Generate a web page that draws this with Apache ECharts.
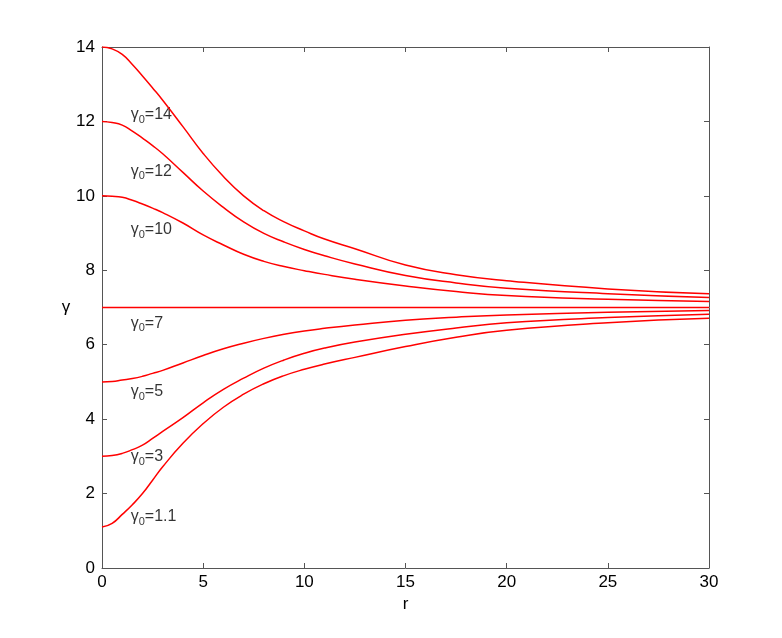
<!DOCTYPE html>
<html>
<head>
<meta charset="utf-8">
<script src="https://cdn.jsdelivr.net/npm/echarts@6/dist/echarts.min.js"></script>
<style>
    html, body { margin: 0; padding: 0; background: #fff; }
    #chart { width: 782px; height: 638px; }
</style>
</head>
<body>
<div id="chart"></div>
<script>
const rValues = [0, 0.5, 1, 1.5, 2, 2.5, 3, 4, 5, 6, 7, 8, 9, 10, 11, 12.5, 15, 17.5, 20, 25, 30]

const gamma14 = [14, 13.95, 13.8, 13.53, 13.22, 12.9, 12.57, 11.86, 11.14, 10.52, 10.0, 9.6, 9.3, 9.06, 8.84, 8.58, 8.14, 7.88, 7.72, 7.5, 7.37]
const gamma12 = [12, 11.97, 11.9, 11.74, 11.55, 11.35, 11.13, 10.63, 10.13, 9.69, 9.3, 8.99, 8.76, 8.56, 8.39, 8.17, 7.86, 7.66, 7.52, 7.37, 7.27]
const gamma10 = [10, 9.99, 9.96, 9.88, 9.78, 9.67, 9.55, 9.27, 8.95, 8.68, 8.43, 8.24, 8.1, 7.99, 7.89, 7.76, 7.58, 7.43, 7.32, 7.22, 7.16]
const gamma7 = [7, 7, 7, 7, 7, 7, 7, 7, 7, 7, 7, 7, 7, 7, 7, 7, 7, 7, 7, 7, 7]
const gamma5 = [5, 5.01, 5.05, 5.09, 5.15, 5.23, 5.31, 5.51, 5.71, 5.89, 6.04, 6.17, 6.28, 6.37, 6.44, 6.53, 6.66, 6.74, 6.8, 6.87, 6.92]
const gamma3 = [3, 3.02, 3.08, 3.18, 3.3, 3.48, 3.67, 4.04, 4.44, 4.8, 5.1, 5.37, 5.59, 5.77, 5.91, 6.07, 6.28, 6.45, 6.59, 6.73, 6.82]
const gamma1_1 = [1.1, 1.2, 1.44, 1.7, 2.0, 2.36, 2.72, 3.35, 3.88, 4.32, 4.67, 4.95, 5.17, 5.34, 5.48, 5.66, 5.95, 6.2, 6.39, 6.59, 6.71]

const curves = [gamma14, gamma12, gamma10, gamma7, gamma5, gamma3, gamma1_1]

// curve labels: text after the subscript, and where they sit
const labelText = ['14', '12', '10', '7', '5', '3', '1.1']
const labelR = [1.42, 1.42, 1.42, 1.42, 1.42, 1.42, 1.42]
const labelGamma = [12.18, 10.66, 9.09, 6.58, 4.74, 2.99, 1.37]

const xTicks = [0, 5, 10, 15, 20, 25, 30]
const yTicks = [0, 2, 4, 6, 8, 10, 12, 14]

const font = 'Liberation Sans, Arial, Helvetica, sans-serif'
const axisColor = '#555'

const chart = echarts.init(document.getElementById('chart'))

const lineSeries = curves.map((vals, i) => ({
    name: 'g' + labelText[i],
    type: 'line',
    data: rValues.map((r, j) => [r, vals[j]]),
    showSymbol: false,
    smooth: 0.5,
    lineStyle: { color: '#ff0000', width: 1.5 },
    silent: true
}))

const labelSeries = {
    type: 'scatter',
    symbolSize: 0,
    silent: true,
    data: labelText.map((t, i) => ({ value: [labelR[i], labelGamma[i]], txt: t })),
    label: {
        show: true,
        position: 'right',
        distance: 0,
        formatter: p => '{g|γ}{s|0}{t|=' + p.data.txt + '}',
        rich: {
            g: { fontSize: 16, fontFamily: font, color: '#000' },
            s: { fontSize: 11, fontFamily: font, color: '#000', padding: [10, 0, 0, 0] },
            t: { fontSize: 16, fontFamily: font, color: '#000' }
        }
    }
}

const frameAxis = {
    type: 'value',
    axisLine: { show: true, onZero: false, lineStyle: { color: axisColor, width: 1 } },
    axisTick: { show: true, inside: true, length: 5, lineStyle: { color: axisColor } },
    splitLine: { show: false }
}

const option = {
    animation: false,
    backgroundColor: '#fff',
    grid: { left: 102, top: 47, right: 73, bottom: 70, containLabel: false },
    xAxis: [
        {
            ...frameAxis,
            min: 0, max: 30, interval: 5,
            position: 'bottom',
            name: 'r',
            nameLocation: 'middle',
            nameGap: 28,
            nameTextStyle: { fontSize: 17, fontFamily: font, color: '#000' },
            axisLabel: { fontSize: 17, fontFamily: font, color: '#000', margin: 6,
                formatter: v => xTicks.includes(v) ? String(v) : '' }
        },
        {
            ...frameAxis,
            min: 0, max: 30, interval: 5,
            position: 'top',
            axisLabel: { show: false }
        }
    ],
    yAxis: [
        {
            ...frameAxis,
            min: 0, max: 14, interval: 2,
            position: 'left',
            name: 'γ',
            nameLocation: 'middle',
            nameRotate: 0,
            nameGap: 30,
            nameTextStyle: { fontSize: 17, fontFamily: font, color: '#000' },
            axisLabel: { fontSize: 17, fontFamily: font, color: '#000', margin: 7,
                formatter: v => yTicks.includes(v) ? String(v) : '' }
        },
        {
            ...frameAxis,
            min: 0, max: 14, interval: 2,
            position: 'right',
            axisLabel: { show: false }
        }
    ],
    series: [...lineSeries, labelSeries]
}

chart.setOption(option)
</script>
</body>
</html>
